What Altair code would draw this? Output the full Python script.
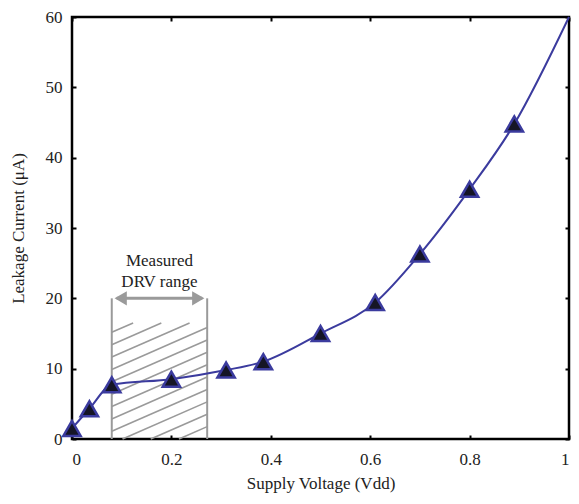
import altair as alt
import pandas as pd

# data
vdd = [0.0, 0.035, 0.08, 0.2, 0.31, 0.385, 0.5, 0.61, 0.7, 0.8, 0.89]
leak = [1.5, 4.3, 7.7, 8.5, 9.8, 11.0, 15.0, 19.4, 26.3, 35.5, 44.8]
line_x = vdd + [1.0]
line_y = leak + [60.0]
drv_lo, drv_hi, drv_top, hatch_top = 0.08, 0.272, 20.0, 16.5
x_ticks = [0, 0.2, 0.4, 0.6, 0.8, 1]
y_ticks = [0, 10, 20, 30, 40, 50, 60]
label_lines = ["Measured", "DRV range"]

FONT = "Liberation Serif"
BLUE = "#3b3b9e"
GRAY = "#9a9a9a"

pts = pd.DataFrame({"x": vdd, "y": leak})
ln = pd.DataFrame({"x": line_x, "y": line_y})

# hatch lines clipped to the DRV box
slope = 31.0  # data units of y per unit x
spacing = 1.76
segs = []
c = -slope * (drv_hi - drv_lo)
while c < hatch_top:
    xs0 = drv_lo if c >= 0 else drv_lo + (-c) / slope
    ys0 = max(c, 0.0)
    ye_full = c + slope * (drv_hi - drv_lo)
    if ye_full <= hatch_top:
        xe, ye = drv_hi, ye_full
    else:
        xe, ye = drv_lo + (hatch_top - c) / slope, hatch_top
    if xe > xs0:
        segs.append({"x": xs0, "y": ys0, "x2": xe, "y2": ye})
    c += spacing
hatch = pd.DataFrame(segs)

xs = alt.Scale(domain=[0, 1], nice=False)
ys = alt.Scale(domain=[0, 60], nice=False)

tick_common = dict(domain=False, grid=False, tickColor="black", tickWidth=2, tickSize=4)
label_common = dict(labelFont=FONT, labelFontSize=17, labelColor="#222",
                    titleFont=FONT, titleFontSize=17, titleFontWeight="normal", titleColor="#222")

x_bottom = alt.Axis(values=x_ticks, offset=-4, labelPadding=12, title="Supply Voltage (Vdd)",
                    titlePadding=8,
                    labelExpr="datum.value == 0 ? '0' : datum.value == 1 ? '1' : format(datum.value, '.1f')",
                    **tick_common, **label_common)
y_left = alt.Axis(values=y_ticks, offset=-4, labelPadding=10, title="Leakage Current (μA)",
                  titlePadding=18, **tick_common, **label_common)
x_top = alt.Axis(values=x_ticks, orient="top", offset=-4, labels=False, title=None, **tick_common)
y_right = alt.Axis(values=y_ticks, orient="right", offset=-4, labels=False, title=None, **tick_common)


def X(field, axis=None):
    return alt.X(field, scale=xs, axis=axis)


def Y(field, axis=None):
    return alt.Y(field, scale=ys, axis=axis)


hatch_layer = alt.Chart(hatch).mark_rule(color=GRAY, strokeWidth=1.6).encode(
    x=X("x:Q", x_bottom), y=Y("y:Q", y_left), x2="x2:Q", y2="y2:Q")

box = pd.DataFrame({"x": [drv_lo, drv_hi], "y": [0, 0], "y2": [drv_top, drv_top]})
box_layer = alt.Chart(box).mark_rule(color=GRAY, strokeWidth=2).encode(
    x=X("x:Q"), y=Y("y:Q"), y2="y2:Q")

arrow = pd.DataFrame({"x": [drv_lo + 0.01], "x2": [drv_hi - 0.01], "y": [drv_top]})
arrow_layer = alt.Chart(arrow).mark_rule(color=GRAY, strokeWidth=3).encode(
    x=X("x:Q"), x2="x2:Q", y=Y("y:Q"))

heads = pd.DataFrame({"x": [drv_lo + 0.018, drv_hi - 0.018], "y": [drv_top, drv_top],
                      "shape": ["triangle-left", "triangle-right"]})
head_layer = alt.Chart(heads).mark_point(filled=True, color=GRAY, opacity=1, size=200).encode(
    x=X("x:Q"), y=Y("y:Q"),
    shape=alt.Shape("shape:N", scale=None, legend=None))

mid = (drv_lo + drv_hi) / 2
txt = pd.DataFrame({"x": [mid, mid], "y": [25.3, 22.3], "t": label_lines})
text_layer = alt.Chart(txt).mark_text(font=FONT, fontSize=17, color="#222").encode(
    x=X("x:Q"), y=Y("y:Q"), text="t:N")

line_layer = alt.Chart(ln).mark_line(color=BLUE, strokeWidth=2, interpolate="monotone").encode(
    x=X("x:Q", x_top), y=Y("y:Q", y_right))

pt_layer = alt.Chart(pts).mark_point(shape="triangle-up", filled=True, fill="#151525",
                                     stroke=BLUE, strokeWidth=2.5, opacity=1, size=300).encode(
    x=X("x:Q"), y=Y("y:Q"))

chart = alt.layer(hatch_layer, box_layer, arrow_layer, head_layer, text_layer,
                  line_layer, pt_layer).resolve_axis(x="independent", y="independent").properties(
    width=497, height=422,
    autosize=alt.AutoSizeParams(type="none"),
    padding={"left": 64, "top": 9, "right": 2, "bottom": 57},
).configure_view(stroke="black", strokeWidth=2.5)

chart.save("out.html", embed_options={"renderer": "svg", "actions": False})
